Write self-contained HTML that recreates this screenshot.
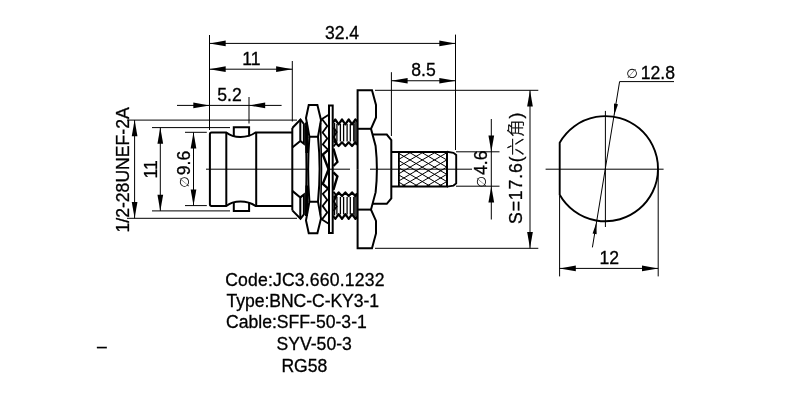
<!DOCTYPE html>
<html><head><meta charset="utf-8"><title>BNC-C-KY3-1</title>
<style>
html,body{margin:0;padding:0;background:#fff;}
body{width:800px;height:400px;overflow:hidden;}
svg{display:block;will-change:transform;}
text{font-family:'Liberation Sans', 'Noto Sans CJK SC', sans-serif;font-size:17.6px;fill:#000;stroke:#000;stroke-width:0.3px;}
.dia{font-family:'DejaVu Sans',sans-serif;font-size:13.2px;stroke-width:0;}
.cjk{font-family:'Noto Sans CJK SC','Liberation Sans',sans-serif;font-weight:300;font-size:17.6px;}
</style></head>
<body>
<svg width="800" height="400" viewBox="0 0 800 400">
<rect width="800" height="400" fill="#fff"/>
<defs><clipPath id="kn"><rect x="398.9" y="151.8" width="48.10000000000002" height="34.80"/></clipPath></defs>
<g stroke="#000" stroke-width="1.0" fill="none" clip-path="url(#kn)">
<line x1="242.00" y1="111.61" x2="382.00" y2="193.89"/>
<line x1="242.00" y1="193.89" x2="382.00" y2="111.61"/>
<line x1="254.25" y1="111.61" x2="394.25" y2="193.89"/>
<line x1="254.25" y1="193.89" x2="394.25" y2="111.61"/>
<line x1="266.50" y1="111.61" x2="406.50" y2="193.89"/>
<line x1="266.50" y1="193.89" x2="406.50" y2="111.61"/>
<line x1="278.75" y1="111.61" x2="418.75" y2="193.89"/>
<line x1="278.75" y1="193.89" x2="418.75" y2="111.61"/>
<line x1="291.00" y1="111.61" x2="431.00" y2="193.89"/>
<line x1="291.00" y1="193.89" x2="431.00" y2="111.61"/>
<line x1="303.25" y1="111.61" x2="443.25" y2="193.89"/>
<line x1="303.25" y1="193.89" x2="443.25" y2="111.61"/>
<line x1="315.50" y1="111.61" x2="455.50" y2="193.89"/>
<line x1="315.50" y1="193.89" x2="455.50" y2="111.61"/>
<line x1="327.75" y1="111.61" x2="467.75" y2="193.89"/>
<line x1="327.75" y1="193.89" x2="467.75" y2="111.61"/>
<line x1="340.00" y1="111.61" x2="480.00" y2="193.89"/>
<line x1="340.00" y1="193.89" x2="480.00" y2="111.61"/>
<line x1="352.25" y1="111.61" x2="492.25" y2="193.89"/>
<line x1="352.25" y1="193.89" x2="492.25" y2="111.61"/>
<line x1="364.50" y1="111.61" x2="504.50" y2="193.89"/>
<line x1="364.50" y1="193.89" x2="504.50" y2="111.61"/>
<line x1="376.75" y1="111.61" x2="516.75" y2="193.89"/>
<line x1="376.75" y1="193.89" x2="516.75" y2="111.61"/>
<line x1="389.00" y1="111.61" x2="529.00" y2="193.89"/>
<line x1="389.00" y1="193.89" x2="529.00" y2="111.61"/>
<line x1="401.25" y1="111.61" x2="541.25" y2="193.89"/>
<line x1="401.25" y1="193.89" x2="541.25" y2="111.61"/>
<line x1="413.50" y1="111.61" x2="553.50" y2="193.89"/>
<line x1="413.50" y1="193.89" x2="553.50" y2="111.61"/>
<line x1="425.75" y1="111.61" x2="565.75" y2="193.89"/>
<line x1="425.75" y1="193.89" x2="565.75" y2="111.61"/>
<line x1="438.00" y1="111.61" x2="578.00" y2="193.89"/>
<line x1="438.00" y1="193.89" x2="578.00" y2="111.61"/>
<line x1="450.25" y1="111.61" x2="590.25" y2="193.89"/>
<line x1="450.25" y1="193.89" x2="590.25" y2="111.61"/>
<line x1="462.50" y1="111.61" x2="602.50" y2="193.89"/>
<line x1="462.50" y1="193.89" x2="602.50" y2="111.61"/>
<line x1="474.75" y1="111.61" x2="614.75" y2="193.89"/>
<line x1="474.75" y1="193.89" x2="614.75" y2="111.61"/>
<line x1="487.00" y1="111.61" x2="627.00" y2="193.89"/>
<line x1="487.00" y1="193.89" x2="627.00" y2="111.61"/>
<line x1="499.25" y1="111.61" x2="639.25" y2="193.89"/>
<line x1="499.25" y1="193.89" x2="639.25" y2="111.61"/>
</g>
<g stroke="#000" stroke-width="1.0" fill="none">
<line x1="209.5" y1="35" x2="209.5" y2="130"/>
<line x1="455.5" y1="34.6" x2="455.5" y2="150"/>
<line x1="209.5" y1="43.4" x2="455.5" y2="43.4"/>
<line x1="292.3" y1="61" x2="292.3" y2="121.5"/>
<line x1="209.5" y1="69.2" x2="292.3" y2="69.2"/>
<line x1="249" y1="97" x2="249" y2="123.5"/>
<line x1="177" y1="105.4" x2="281.6" y2="105.4"/>
<line x1="391.4" y1="72.2" x2="391.4" y2="136"/>
<line x1="391.4" y1="80.75" x2="455.5" y2="80.75"/>
<line x1="375" y1="90.3" x2="538.3" y2="90.3"/>
<line x1="375" y1="248.3" x2="538.3" y2="248.3"/>
<line x1="530" y1="90.3" x2="530" y2="248.3"/>
<line x1="456" y1="151.8" x2="499.5" y2="151.8"/>
<line x1="456" y1="186.2" x2="499.5" y2="186.2"/>
<line x1="491.3" y1="119" x2="491.3" y2="219.5"/>
<line x1="127" y1="120.1" x2="297" y2="120.1"/>
<line x1="127" y1="218.3" x2="297" y2="218.3"/>
<line x1="134.6" y1="120.1" x2="134.6" y2="218.3"/>
<line x1="152" y1="127.6" x2="230" y2="127.6"/>
<line x1="152" y1="210.9" x2="230" y2="210.9"/>
<line x1="160.3" y1="127.6" x2="160.3" y2="210.9"/>
<line x1="185" y1="132.3" x2="206.8" y2="132.3"/>
<line x1="185" y1="205.6" x2="206.8" y2="205.6"/>
<line x1="193.5" y1="132.3" x2="193.5" y2="205.6"/>
<line x1="206" y1="169.2" x2="309" y2="169.2"/>
<line x1="328" y1="169.2" x2="350" y2="169.2"/>
<line x1="370" y1="169.2" x2="472" y2="169.2"/>
<line x1="545.6" y1="169.2" x2="663.6" y2="169.2"/>
<line x1="605.4" y1="110.9" x2="605.4" y2="227"/>
<line x1="619.6" y1="81.6" x2="674" y2="81.6"/>
<line x1="619.6" y1="81.6" x2="592.4" y2="247.4"/>
<line x1="559.6" y1="196" x2="559.6" y2="276.4"/>
<line x1="658.2" y1="169" x2="658.2" y2="276.4"/>
<line x1="559.6" y1="268.4" x2="658.2" y2="268.4"/>
</g>
<g stroke="#000" stroke-width="2.0" fill="none" stroke-linejoin="miter">
<path d="M559.7,142.66 A52.6,52.6 0 1 1 559.7,194.74 Z" stroke-width="1.9" />
<path d="M292.3,132.5 H255.5 C250,136.5 246,137 240.5,137 C235,137 231,136.5 226.3,132.5 H211.5 Q209.9,132.5 209.9,134.2 V204.2 Q209.9,205.9 211.5,205.9 H226.3 C231,201.9 235,201.4 240.5,201.4 C246,201.4 250,201.9 255.5,205.9 H292.3" />
<line x1="226.3" y1="132.5" x2="226.3" y2="205.9"/>
<line x1="256.2" y1="132.5" x2="256.2" y2="205.9"/>
<line x1="292.3" y1="128" x2="292.3" y2="210.4"/>
<path d="M233.8,136.3 V127.3 H249.1 V136.3" />
<path d="M233.8,202.1 V211.1 H249.1 V202.1" />
<path d="M292.3,128 L300.5,119.6 L303.9,124 V143.8 L300.3,141" stroke-linejoin="miter"/>
<path d="M300.3,119.6 V141 L292.3,147.5" />
<path d="M306.5,122.5 L306.9,153" stroke-width="3.0" />
<path d="M292.3,210.4 L300.5,218.8 L303.9,214.4 V194.6 L300.3,197.4" stroke-linejoin="miter"/>
<path d="M300.3,218.8 V197.4 L292.3,190.9" />
<path d="M306.5,215.9 L306.9,185.4" stroke-width="3.0" />
<path d="M308.75,105.1 H317.4 L321,120 L318,136.75 H309.4 L306,118 Z" />
<path d="M308.75,233.3 H317.4 L321,218.4 L318,201.65 H309.4 L306,220.4 Z" />
<path d="M309.4,136.75 Q306.9,169.2 309.4,201.65" />
<path d="M306,126 Q306.9,169.2 306,212.4" stroke-width="1.9" />
<path d="M318,136.75 Q321.2,169.2 318,201.65" />
<path d="M329.0,105.4 H332.7 V233.0 H329.0 Z" stroke-width="2.0" />
<path d="M328.3,114.9 L322,119 L327.3,126 L322.6,132.5 L327.3,138.5 L322.8,144.5 L328.2,149.8" stroke-width="1.8" />
<path d="M328.2,149.8 L322.8,154.5 L328.6,169.2" stroke-width="2.4" />
<path d="M333.6,127.5 L336.6,132 L333.8,137 L336.6,142.5 L333.6,146.5" stroke-width="1.8" />
<path d="M333.4,148.5 L337.4,162 L333.4,166" stroke-width="2.4" />
<path d="M328.3,223.5 L322,219.4 L327.3,212.4 L322.6,205.9 L327.3,199.9 L322.8,193.9 L328.2,188.6" stroke-width="1.8" />
<path d="M328.2,188.6 L322.8,183.9 L328.6,169.2" stroke-width="2.4" />
<path d="M333.6,210.9 L336.6,206.4 L333.8,201.4 L336.6,195.9 L333.6,191.9" stroke-width="1.8" />
<path d="M333.4,189.9 L337.4,176.4 L333.4,172.4" stroke-width="2.4" />
<path d="M320.6,123 Q322.4,169.2 320.6,215.4" stroke-width="1.6" />
<path d="M333,122.5 L335.3,119.5 L338.65000000000003,124.3 L342.0,119.5 L345.35,124.3 L348.7,119.5 L352.05,124.3 L355.4,119.5 L357.4,121.5" stroke-width="2.2" stroke-linejoin="round"/>
<line x1="336.90000000000003" y1="124" x2="336.90000000000003" y2="141.5" stroke-width="1.3"/>
<line x1="340.40000000000003" y1="124" x2="340.40000000000003" y2="141.5" stroke-width="1.3"/>
<line x1="343.6" y1="124" x2="343.6" y2="141.5" stroke-width="1.3"/>
<line x1="347.1" y1="124" x2="347.1" y2="141.5" stroke-width="1.3"/>
<line x1="350.3" y1="124" x2="350.3" y2="141.5" stroke-width="1.3"/>
<line x1="353.8" y1="124" x2="353.8" y2="141.5" stroke-width="1.3"/>
<line x1="334.4" y1="123" x2="334.4" y2="141.5" stroke-width="1.6"/>
<line x1="354.3" y1="121.5" x2="354.3" y2="143" stroke-width="0.8"/>
<line x1="355.4" y1="121.5" x2="355.4" y2="143" stroke-width="0.8"/>
<line x1="356.4" y1="121.5" x2="356.4" y2="143" stroke-width="0.8"/>
<path d="M334,141 L338.65000000000003,146 L342.0,142.3 L345.35,146 L348.7,142.3 L352.05,146 L355.4,142.3 L357,145" stroke-width="2.2" stroke-linejoin="round"/>
<path d="M333,215.9 L335.3,218.9 L338.65000000000003,214.1 L342.0,218.9 L345.35,214.1 L348.7,218.9 L352.05,214.1 L355.4,218.9 L357.4,216.9" stroke-width="2.2" stroke-linejoin="round"/>
<line x1="336.90000000000003" y1="214.4" x2="336.90000000000003" y2="196.9" stroke-width="1.3"/>
<line x1="340.40000000000003" y1="214.4" x2="340.40000000000003" y2="196.9" stroke-width="1.3"/>
<line x1="343.6" y1="214.4" x2="343.6" y2="196.9" stroke-width="1.3"/>
<line x1="347.1" y1="214.4" x2="347.1" y2="196.9" stroke-width="1.3"/>
<line x1="350.3" y1="214.4" x2="350.3" y2="196.9" stroke-width="1.3"/>
<line x1="353.8" y1="214.4" x2="353.8" y2="196.9" stroke-width="1.3"/>
<line x1="334.4" y1="215.4" x2="334.4" y2="196.9" stroke-width="1.6"/>
<line x1="354.3" y1="216.9" x2="354.3" y2="195.4" stroke-width="0.8"/>
<line x1="355.4" y1="216.9" x2="355.4" y2="195.4" stroke-width="0.8"/>
<line x1="356.4" y1="216.9" x2="356.4" y2="195.4" stroke-width="0.8"/>
<path d="M334,197.4 L338.65000000000003,192.4 L342.0,196.1 L345.35,192.4 L348.7,196.1 L352.05,192.4 L355.4,196.1 L357,193.4" stroke-width="2.2" stroke-linejoin="round"/>
<path d="M357.6,169.2 V90.2 H372 L376,105 V117.5 L371,128.8 L375.6,146 Q376.9,158 376.9,169.2" stroke-linejoin="miter"/>
<line x1="357.6" y1="128.8" x2="371" y2="128.8"/>
<path d="M357.6,169.2 V248.2 H372 L376,233.4 V220.9 L371,209.6 L375.6,192.4 Q376.9,180.4 376.9,169.2" stroke-linejoin="miter"/>
<line x1="357.6" y1="209.6" x2="371" y2="209.6"/>
<path d="M372.8,134.6 H386.8 L391.3,140 V169.2" />
<path d="M372.8,203.8 H386.8 L391.3,198.4 V169.2" />
<path d="M391.3,151.9 H447 V186.5 H391.3" stroke-width="2.0" />
<line x1="398.9" y1="151.8" x2="398.9" y2="186.6" stroke-width="1.8"/>
<line x1="447" y1="151.8" x2="447" y2="186.6" stroke-width="1.8"/>
<path d="M447,151.8 L453.5,152.8 L456.2,155 V183.4 L453.5,185.6 L447,186.6" stroke-width="1.9" />
</g>
<g fill="#000" stroke="none">
<polygon points="209.50,43.40 225.70,46.25 225.70,40.55"/>
<polygon points="455.50,43.40 439.30,40.55 439.30,46.25"/>
<polygon points="209.50,69.20 225.70,72.05 225.70,66.35"/>
<polygon points="292.30,69.20 276.10,66.35 276.10,72.05"/>
<polygon points="209.50,105.40 193.30,102.55 193.30,108.25"/>
<polygon points="249.00,105.40 265.20,108.25 265.20,102.55"/>
<polygon points="391.40,80.75 407.60,83.60 407.60,77.90"/>
<polygon points="455.50,80.75 439.30,77.90 439.30,83.60"/>
<polygon points="530.00,90.30 527.15,106.50 532.85,106.50"/>
<polygon points="530.00,248.30 532.85,232.10 527.15,232.10"/>
<polygon points="491.30,151.80 494.15,135.60 488.45,135.60"/>
<polygon points="491.30,186.20 488.45,202.40 494.15,202.40"/>
<polygon points="134.60,120.10 131.75,136.30 137.45,136.30"/>
<polygon points="134.60,218.30 137.45,202.10 131.75,202.10"/>
<polygon points="160.30,127.60 157.45,143.80 163.15,143.80"/>
<polygon points="160.30,210.90 163.15,194.70 157.45,194.70"/>
<polygon points="193.50,132.30 190.65,148.50 196.35,148.50"/>
<polygon points="193.50,205.60 196.35,189.40 190.65,189.40"/>
<polygon points="614.10,115.40 618.02,104.19 613.97,103.52"/>
<polygon points="596.50,222.30 592.58,233.51 596.63,234.18"/>
<polygon points="559.60,268.40 575.80,271.25 575.80,265.55"/>
<polygon points="658.20,268.40 642.00,265.55 642.00,271.25"/>
</g>
<g>
<text x="342" y="39" text-anchor="middle">32.4</text>
<text x="251.5" y="65" text-anchor="middle">11</text>
<text x="229.5" y="101" text-anchor="middle">5.2</text>
<text x="423.5" y="75.8" text-anchor="middle">8.5</text>
<text x="626.2" y="77.8" text-anchor="start"><tspan class="dia">∅</tspan></text>
<text x="657.8" y="79" text-anchor="middle">12.8</text>
<text x="609.2" y="264.4" text-anchor="middle">12</text>
<text x="129.4" y="232.5" text-anchor="start" transform="rotate(-90 129.4 232.5)">1/2-28UNEF-2A</text>
<text x="157" y="169.25" text-anchor="middle" transform="rotate(-90 157 169.25)">11</text>
<text x="190" y="169.25" text-anchor="middle" transform="rotate(-90 190 169.25)"><tspan class="dia" dy="-1.2">∅</tspan><tspan dy="1.2" dx="1">9.6</tspan></text>
<text x="487" y="169" text-anchor="middle" transform="rotate(-90 487 169)"><tspan class="dia" dy="-1.2">∅</tspan><tspan dy="1.2" dx="1">4.6</tspan></text>
<text x="522.3" y="224" text-anchor="start" transform="rotate(-90 522.3 224)" letter-spacing="0.9">S=17.6(<tspan class="cjk">六角</tspan>)</text>
<text x="225.2" y="285.5" text-anchor="start" letter-spacing="0.17">Code:JC3.660.1232</text>
<text x="226.6" y="307" text-anchor="start" letter-spacing="-0.07">Type:BNC-C-KY3-1</text>
<text x="226" y="328.2" text-anchor="start">Cable:SFF-50-3-1</text>
<text x="276.5" y="350" text-anchor="start">SYV-50-3</text>
<text x="281.4" y="372" text-anchor="start">RG58</text>
<text x="97.0" y="352.3" text-anchor="start" style="font-size:17.6px">–</text>
</g>
</svg>
</body></html>
